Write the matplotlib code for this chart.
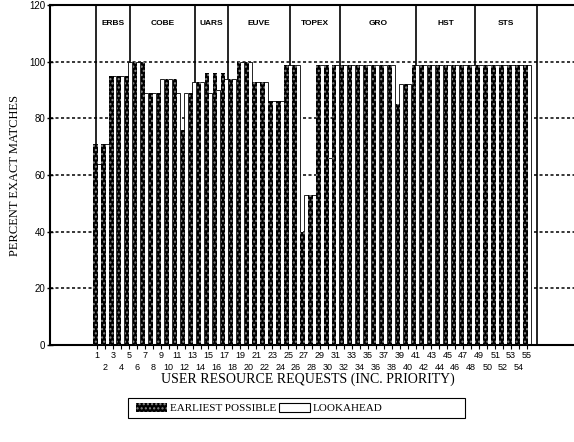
import numpy as np
import matplotlib.pyplot as plt
from matplotlib.patches import Rectangle

# request numbers 1..55
requests = list(range(1, 56))

earliest = [71, 71, 95, 95, 95, 100, 100, 89, 89, 94,
            94, 76, 89, 93, 96, 96, 96, 94, 100, 100,
            93, 93, 86, 86, 99, 99, 40, 53, 99, 99,
            99, 99, 99, 99, 99, 99, 99, 99, 85, 92,
            99, 99, 99, 99, 99, 99, 99, 99, 99, 99,
            99, 99, 99, 99, 99]

lookahead = [64, 71, 95, 95, 100, 100, 89, 89, 94, 94,
             89, 89, 93, 93, 89, 90, 94, 94, 100, 100,
             93, 93, 86, 86, 99, 99, 53, 53, 99, 66,
             99, 99, 99, 99, 99, 99, 99, 99, 92, 92,
             99, 99, 99, 99, 99, 99, 99, 99, 99, 99,
             99, 99, 99, 99, 99]

groups = ['ERBS', 'COBE', 'UARS', 'EUVE', 'TOPEX', 'GRO', 'HST', 'STS']
group_edges = [0.87, 5.14, 13.3, 17.45, 25.24, 31.5, 41.06, 48.47, 56.26]

yticks = [0, 20, 40, 60, 80, 100, 120]

serif = ['Liberation Serif', 'DejaVu Serif']
sans = ['Liberation Sans', 'DejaVu Sans']

fig = plt.figure(figsize=(5.74, 4.42), dpi=100)
ax = fig.add_axes([50 / 574, 1 - 345 / 442, 1 - 50 / 574, 340 / 442])

x = np.array(requests)
ax.bar(x + 0.2, lookahead, width=0.5, color='white', edgecolor='black',
       linewidth=0.6, zorder=2)
ax.bar(x - 0.2, earliest, width=0.55, color='black', edgecolor='#8a8a8a',
       hatch='....', linewidth=0, zorder=3)

# dashed grid
for yv in yticks[1:-1]:
    ax.axhline(yv, color='black', lw=1.1, ls=(0, (2.0, 1.6)), zorder=1)

# group boxes along the top
for e in group_edges:
    ax.plot([e, e], [0, 120], color='black', lw=1.2, zorder=1)
for i, g in enumerate(groups):
    cx = (group_edges[i] + group_edges[i + 1]) / 2
    ax.text(cx, 113.5, g, ha='center', va='center', fontsize=6,
            fontweight='bold', family=sans)

ax.set_xlim(-4.9, 60.9)
ax.set_ylim(0, 120)

ax.set_yticks(yticks)
ax.set_yticklabels([str(v) for v in yticks], fontsize=7, family=sans)

# odd numbers on the upper row, even numbers staggered below
odd = [r for r in requests if r % 2]
even = [r for r in requests if r % 2 == 0]
ax.set_xticks(odd)
ax.set_xticklabels([str(r) for r in odd], fontsize=6.5, family=sans)
ax.set_xticks(even, minor=True)
ax.set_xticklabels([str(r) for r in even], minor=True, fontsize=6.5, family=sans)
ax.tick_params(axis='y', direction='inout', length=5, width=1, pad=1)
ax.tick_params(axis='x', which='major', direction='out', length=3, width=0.8, pad=1)
ax.tick_params(axis='x', which='minor', direction='out', length=3, width=0.8, pad=10)

ax.spines['right'].set_visible(False)
for s in ['left', 'bottom', 'top']:
    ax.spines[s].set_linewidth(1.5)

ax.set_ylabel('PERCENT EXACT MATCHES', fontsize=9, family=serif, labelpad=6)
fig.text(308 / 574, 1 - 379 / 442, 'USER RESOURCE REQUESTS (INC. PRIORITY)',
         ha='center', va='center', fontsize=10, family=serif)

# legend
fig.patches.append(Rectangle((128 / 574, 1 - 418 / 442), 337 / 574, 20 / 442,
                             transform=fig.transFigure, fill=False,
                             edgecolor='black', lw=0.8))
h1 = Rectangle((0, 0), 1, 1, facecolor='black', edgecolor='#8a8a8a',
               hatch='....', lw=0)
h2 = Rectangle((0, 0), 1, 1, facecolor='white', edgecolor='black', lw=0.8)
fig.legend([h1, h2], ['EARLIEST POSSIBLE', 'LOOKAHEAD'], ncol=2,
           loc='center left', bbox_to_anchor=(128 / 574, 1 - 408 / 442),
           frameon=False, prop={'family': serif, 'size': 8},
           handlelength=2.8, handleheight=0.9, handletextpad=0.3,
           columnspacing=0.2, borderpad=0.2)

fig.savefig('out.png', dpi=100)
